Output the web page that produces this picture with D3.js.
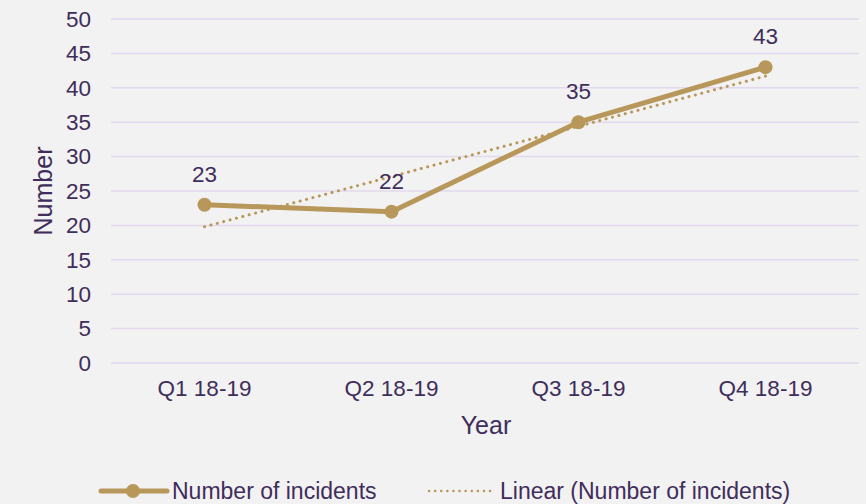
<!DOCTYPE html>
<html lang="en">
  <head>
    <meta charset="utf-8">
    <title>Number of incidents</title>
    <style>
      body { margin: 0; background: #f2f2f2; }
      text { font-family: "Liberation Sans", Arial, sans-serif; fill: #3f2d5b; }
    </style>
  </head>
  <body>
    <svg id="chart"></svg>

    <script src="https://d3js.org/d3.v7.min.js"></script>

    <script type="text/javascript">
      const quarters = ['Q1 18-19', 'Q2 18-19', 'Q3 18-19', 'Q4 18-19'];
      const incidents = [23, 22, 35, 43];
      // trendline end points (Q1 and Q4)
      const trendQuarters = ['Q1 18-19', 'Q4 18-19'];
      const trendValues = [19.8, 41.7];
      const yTicks = [0, 5, 10, 15, 20, 25, 30, 35, 40, 45, 50];

      const width = 866, height = 504;
      const gold = '#b8975a';
      const m = { top: 19, right: 7, bottom: 141, left: 111 };
      const fs = '22.5px';

      const svg = d3.select('#chart')
        .attr('width', width)
        .attr('height', height);

      svg.append('rect').attr('width', width).attr('height', height).attr('fill', '#f2f2f2');

      const x = d3.scaleBand()
        .domain(quarters)
        .range([m.left, width - m.right]);

      const y = d3.scaleLinear()
        .domain([0, 50])
        .range([height - m.bottom, m.top]);

      const cx = d => x(d) + x.bandwidth() / 2;

      // gridlines
      svg.append('g')
        .selectAll('line')
        .data(yTicks)
        .join('line')
        .attr('x1', m.left)
        .attr('x2', width - m.right)
        .attr('y1', d => y(d))
        .attr('y2', d => y(d))
        .attr('stroke', '#e2d9ef')
        .attr('stroke-width', 1.5);

      // y axis
      const yAxis = svg.append('g')
        .attr('transform', `translate(${m.left},0)`)
        .call(d3.axisLeft(y).tickValues(yTicks).tickSize(0).tickPadding(20));
      yAxis.select('.domain').remove();
      yAxis.selectAll('text').style('font-size', fs).attr('fill', '#3f2d5b');

      // x axis
      const xAxis = svg.append('g')
        .attr('transform', `translate(0,${height - m.bottom})`)
        .call(d3.axisBottom(x).tickSize(0).tickPadding(17));
      xAxis.select('.domain').remove();
      xAxis.selectAll('text').style('font-size', fs).attr('fill', '#3f2d5b');

      // axis titles
      svg.append('text')
        .attr('transform', `translate(52,${(y(0) + y(50)) / 2}) rotate(-90)`)
        .attr('text-anchor', 'middle')
        .style('font-size', '25px')
        .text('Number');

      svg.append('text')
        .attr('x', 486)
        .attr('y', 434)
        .attr('text-anchor', 'middle')
        .style('font-size', '25px')
        .text('Year');

      // trendline
      svg.append('path')
        .datum(trendQuarters.map((q, i) => [cx(q), y(trendValues[i])]))
        .attr('d', d3.line())
        .attr('fill', 'none')
        .attr('stroke', gold)
        .attr('stroke-width', 3)
        .attr('stroke-linecap', 'round')
        .attr('stroke-dasharray', '0.1 6.5');

      // main series
      svg.append('path')
        .datum(incidents)
        .attr('d', d3.line().x((d, i) => cx(quarters[i])).y(d => y(d)))
        .attr('fill', 'none')
        .attr('stroke', gold)
        .attr('stroke-width', 5)
        .attr('stroke-linejoin', 'round');

      svg.append('g')
        .selectAll('circle')
        .data(incidents)
        .join('circle')
        .attr('cx', (d, i) => cx(quarters[i]))
        .attr('cy', d => y(d))
        .attr('r', 7)
        .attr('fill', gold);

      svg.append('g')
        .selectAll('text')
        .data(incidents)
        .join('text')
        .attr('x', (d, i) => cx(quarters[i]))
        .attr('y', d => y(d) - 23)
        .attr('text-anchor', 'middle')
        .style('font-size', fs)
        .text(d => d);

      // legend
      const ly = 491;
      svg.append('line')
        .attr('x1', 101).attr('x2', 167).attr('y1', ly).attr('y2', ly)
        .attr('stroke', gold).attr('stroke-width', 5).attr('stroke-linecap', 'round');
      svg.append('circle').attr('cx', 133).attr('cy', ly).attr('r', 7).attr('fill', gold);
      svg.append('text').attr('x', 172).attr('y', ly + 8).style('font-size', '23px').text('Number of incidents');

      svg.append('line')
        .attr('x1', 429).attr('x2', 494).attr('y1', ly).attr('y2', ly)
        .attr('stroke', gold).attr('stroke-width', 2.5).attr('stroke-linecap', 'round')
        .attr('stroke-dasharray', '0.1 6');
      svg.append('text').attr('x', 500).attr('y', ly + 8).style('font-size', '23px').text('Linear (Number of incidents)');
    </script>
  </body>
</html>
